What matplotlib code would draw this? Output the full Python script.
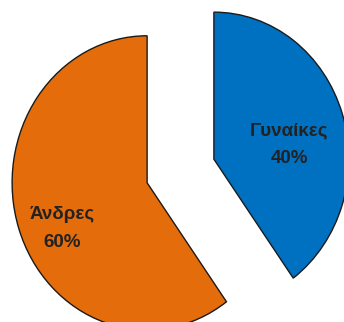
import numpy as np
import matplotlib.pyplot as plt

plt.rcParams['font.family'] = ['Liberation Sans', 'DejaVu Sans']

labels = ['Γυναίκες', 'Άνδρες']
values = [40, 60]
colors = ['#0070C0', '#E46C0A']
explode = [0.26, 0.26]

fig = plt.figure(figsize=(3.44, 3.22), dpi=100)
ax = fig.add_axes([0, 0, 1, 1])

wedges, texts = ax.pie(values, colors=colors, explode=explode, startangle=90,
                       counterclock=False, radius=1.0,
                       labels=['%s\n%d%%' % (l, v) for l, v in zip(labels, values)],
                       labeldistance=0.6,
                       wedgeprops=dict(edgecolor='#1a1a1a', linewidth=1.0),
                       textprops=dict(fontsize=13.5, fontweight='bold', color='#222222',
                                      ha='center', va='center', linespacing=1.8))

# label placement relative to each slice's apex (excel best fit)
offsets = [(0.56, 0.10), (-0.63, -0.31)]
for t, w, (dx, dy) in zip(texts, wedges, offsets):
    cx, cy = w.center
    t.set_position((cx + dx, cy + dy))
    t.set_ha('center')

ax.set_xlim(-1.337, 1.211)
ax.set_ylim(-1.027, 1.163)
ax.set_aspect('auto')
ax.axis('off')

fig.savefig('out.png', dpi=100)
